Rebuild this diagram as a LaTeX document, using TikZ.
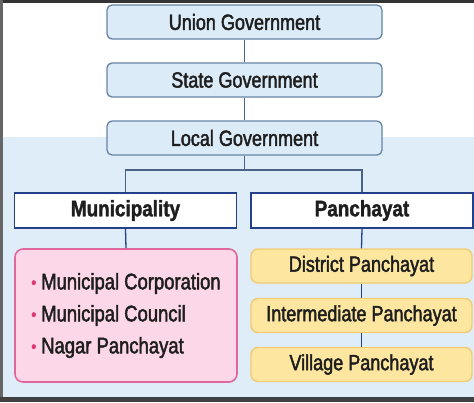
\documentclass[tikz,border=0pt]{standalone}
\usepackage{fontspec}
\setmainfont{Liberation Sans}[FakeStretch=0.82,FakeBold=2]
\newfontfamily\headfont{Liberation Sans}[FakeStretch=0.84,FakeBold=1.5,UprightFont=* Bold]
\definecolor{bgblue}{HTML}{DFEDF9}
\definecolor{govfill}{HTML}{DCEBF8}
\definecolor{govdraw}{HTML}{6683A3}
\definecolor{catdraw}{HTML}{23418A}
\definecolor{pinkfill}{HTML}{FCD7E7}
\definecolor{pinkdraw}{HTML}{E0679E}
\definecolor{yelfill}{HTML}{FDE7A0}
\definecolor{yeldraw}{HTML}{F1CC72}
\definecolor{bulletc}{HTML}{E3336F}
\definecolor{txt}{HTML}{1E1E1E}
\definecolor{linec}{HTML}{4A6283}
\tikzset{
  basebox/.style={text=txt, inner sep=0pt, align=center, font=\fontsize{22}{24}\selectfont},
  govbox/.style={basebox, rounded corners=5pt, fill=govfill, draw=govdraw, line width=1.3pt, minimum width=275pt, minimum height=34pt},
  catbox/.style={basebox, fill=white, draw=catdraw, line width=1.8pt, minimum width=222pt, minimum height=35pt, font=\headfont\fontsize{22.5}{24}\selectfont},
  pinkbox/.style={basebox, rounded corners=8pt, fill=pinkfill, draw=pinkdraw, line width=1.6pt, minimum width=222pt, minimum height=133pt, align=left, font=\fontsize{22.5}{32}\selectfont},
  yelbox/.style={basebox, rounded corners=7pt, fill=yelfill, draw=yeldraw, line width=1.4pt, minimum width=221pt, minimum height=34pt},
  conn/.style={draw=linec, line width=1.3pt},
  conndark/.style={draw=catdraw, line width=1.3pt}
}
\newcommand{\bul}{\textcolor{bulletc}{\raisebox{1pt}{\fontsize{17}{17}\selectfont •}}\hspace{5pt}}
\begin{document}
\begin{tikzpicture}[x=1pt,y=-1pt]
\useasboundingbox (0,0) rectangle (474,402);
% background
\fill[white] (0,0) rectangle (474,402);
\fill[bgblue] (0,137) rectangle (474,397);
\fill[black!80] (0,0) rectangle (474,3);
\fill[black!60] (0,0) rectangle (3,402);
\fill[black!75] (0,397) rectangle (474,402);
% nodes
\node[govbox] (union) at (244.5,22) {Union Government};
\node[govbox] (state) at (244.5,80) {State Government};
\node[govbox] (local) at (244.5,138) {Local Government};
\node[catbox] (muni) at (125.5,210.5) {Municipality};
\node[catbox] (panch) at (362,210.5) {Panchayat};
\node[pinkbox] (pink) at (126,315.5) {\bul Municipal Corporation\\ \bul Municipal Council\\ \bul Nagar Panchayat};
\node[yelbox] (district) at (361.5,266) {District Panchayat};
\node[yelbox] (inter) at (361.5,315.5) {Intermediate Panchayat};
\node[yelbox] (village) at (361.5,364.5) {Village Panchayat};
\coordinate (j) at (244.5,170);
% connectors
\draw[conn] (union.south) -- (state.north);
\draw[conn] (state.south) -- (local.north);
\draw[conn] (local.south) -- (j);
\draw[conn] (muni.north) |- (j) -| (panch.north);
\draw[conndark] (muni.south) -- (pink.north);
\draw[conndark] (panch.south) -- (district.north);
\draw[conndark] (district.south) -- (inter.north);
\draw[conndark] (inter.south) -- (village.north);
\end{tikzpicture}
\end{document}
